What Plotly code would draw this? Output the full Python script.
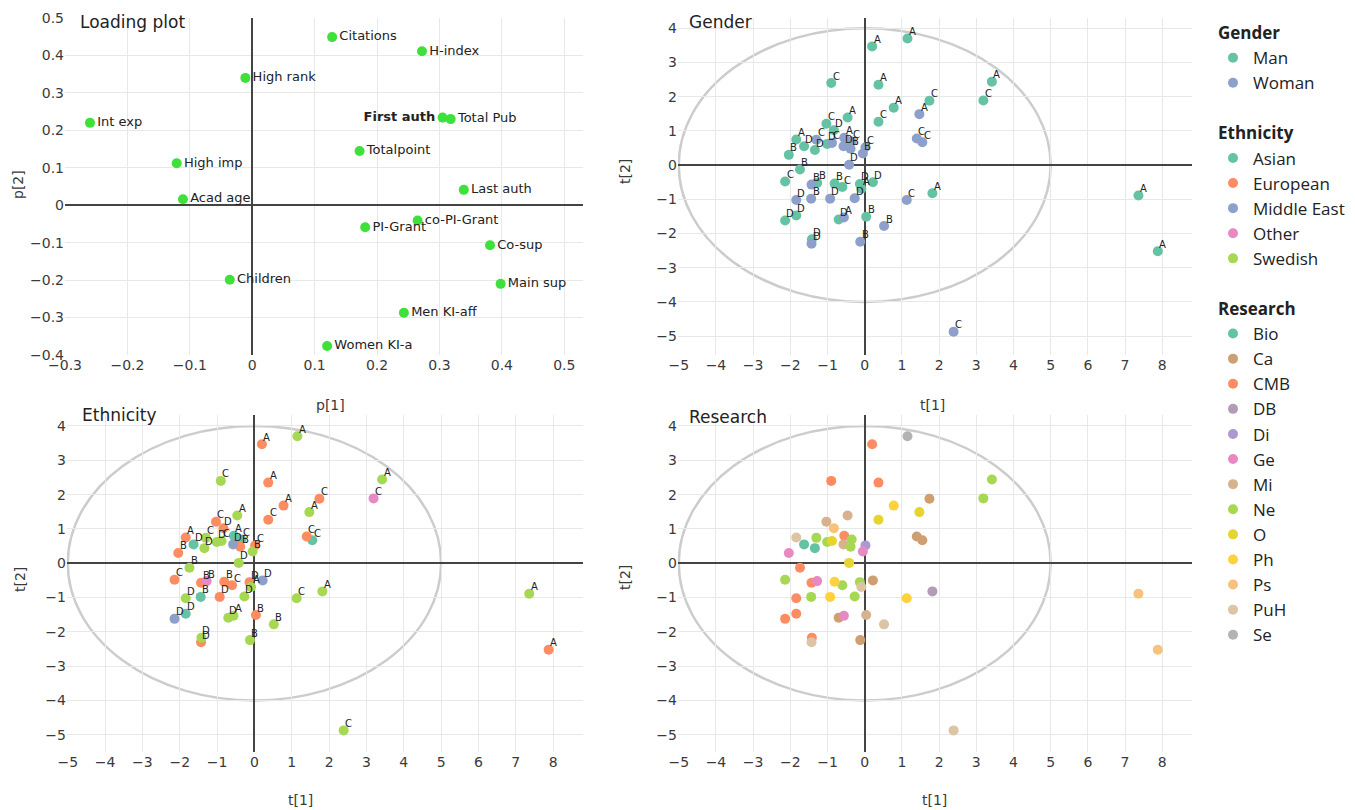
import plotly.graph_objects as go
from plotly.subplots import make_subplots

# ---------------- Loading plot data ----------------
load_names = ["Citations", "H-index", "High rank", "First auth", "Total Pub", "Int exp",
              "Totalpoint", "High imp", "Last auth", "Acad age", "co-PI-Grant", "PI-Grant",
              "Co-sup", "Children", "Main sup", "Men KI-aff", "Women KI-a"]
load_p1 = [0.128, 0.272, -0.011, 0.305, 0.318, -0.260, 0.172, -0.121, 0.339, -0.111,
           0.265, 0.181, 0.381, -0.036, 0.398, 0.243, 0.120]
load_p2 = [0.449, 0.411, 0.340, 0.234, 0.230, 0.220, 0.145, 0.112, 0.041, 0.016,
           -0.041, -0.059, -0.107, -0.199, -0.210, -0.287, -0.376]

# ---------------- Score data ----------------
t1 = [0.20, 1.15, -0.90, 0.37, 3.42, 3.19, 1.74, 0.78, 1.47, 0.37,
      -0.46, -1.03, -0.83, -1.84, -0.55, -1.30, -0.35, -1.63, -1.34, -1.01,
      -0.88, -0.57, -0.38, 0.02, -0.05, -2.04, -0.42, -1.74, -2.14, -1.43,
      -1.28, -0.81, -0.60, -0.13, -0.09, 0.22, 1.82, 1.13, -1.84, -1.44,
      -0.93, -0.27, -2.14, -1.84, -0.70, -0.56, 0.04, 0.52, -1.42, -1.43,
      -0.12, 7.36, 7.88, 2.39, 1.40, 1.55]
t2 = [3.47, 3.70, 2.40, 2.35, 2.44, 1.89, 1.88, 1.68, 1.49, 1.27,
      1.39, 1.21, 1.02, 0.75, 0.80, 0.74, 0.69, 0.55, 0.44, 0.62,
      0.65, 0.55, 0.48, 0.52, 0.34, 0.30, 0.01, -0.13, -0.48, -0.57,
      -0.52, -0.54, -0.64, -0.55, -0.69, -0.50, -0.82, -1.02, -1.02, -0.98,
      -0.98, -0.97, -1.62, -1.47, -1.59, -1.53, -1.51, -1.78, -2.17, -2.30,
      -2.24, -0.89, -2.52, -4.87, 0.78, 0.67]
point_labels = ["A", "A", "C", "A", "A", "C", "C", "A", "A", "C",
                "A", "C", "D", "A", "A", "C", "C", "D", "D", "D",
                "C", "D", "B", "C", "B", "B", "D", "B", "C", "B",
                "B", "B", "C", "D", "A", "D", "A", "C", "D", "B",
                "D", "D", "D", "D", "D", "A", "B", "B", "D", "D",
                "B", "A", "A", "C", "C", "C"]
gender = ["Man", "Man", "Man", "Man", "Man", "Man", "Man", "Man", "Woman", "Man",
          "Man", "Man", "Man", "Man", "Woman", "Woman", "Woman", "Man", "Man", "Man",
          "Woman", "Woman", "Woman", "Woman", "Woman", "Man", "Woman", "Man", "Man", "Woman",
          "Man", "Man", "Man", "Man", "Man", "Man", "Man", "Woman", "Woman", "Woman",
          "Woman", "Woman", "Man", "Man", "Man", "Woman", "Man", "Woman", "Man", "Woman",
          "Woman", "Man", "Man", "Woman", "Woman", "Woman"]
ethnicity = ["European", "Swedish", "Swedish", "European", "Swedish", "Other", "European", "European", "Swedish", "European",
             "Swedish", "European", "European", "European", "Asian", "Swedish", "Asian", "Asian", "Swedish", "Swedish",
             "Swedish", "Middle East", "European", "European", "Swedish", "European", "Swedish", "Swedish", "European", "European",
             "Other", "European", "European", "European", "Swedish", "Middle East", "Swedish", "Swedish", "Swedish", "Asian",
             "European", "Swedish", "Middle East", "Asian", "Swedish", "Swedish", "European", "Swedish", "Swedish", "European",
             "Swedish", "Swedish", "European", "Swedish", "European", "Asian"]
research = ["CMB", "Se", "CMB", "CMB", "Ne", "Ne", "Ca", "Ph", "O", "O",
            "Mi", "Mi", "Ps", "PuH", "CMB", "Ne", "Ne", "Bio", "Bio", "Ne",
            "O", "Mi", "Ne", "Di", "Ge", "Ge", "O", "CMB", "Ne", "CMB",
            "Ge", "Ph", "Ne", "Ne", "PuH", "Ca", "DB", "Ph", "CMB", "Ne",
            "Ph", "Ne", "CMB", "CMB", "Ca", "Ge", "Mi", "PuH", "CMB", "PuH",
            "Ca", "Ps", "Ps", "PuH", "Ca", "Ca"]

gender_cats = ["Man", "Woman"]
ethnicity_cats = ["Asian", "European", "Middle East", "Other", "Swedish"]
research_cats = ["Bio", "Ca", "CMB", "DB", "Di", "Ge", "Mi", "Ne", "O", "Ph", "Ps", "PuH", "Se"]

gender_colors = {"Man": "#66c2a5", "Woman": "#8da0cb"}
ethnicity_colors = {"Asian": "#66c2a5", "European": "#fc8d62", "Middle East": "#8da0cb",
                    "Other": "#e78ac3", "Swedish": "#a6d854"}
research_colors = {"Bio": "#66c2a5", "Ca": "#cf9f72", "CMB": "#fc8d62", "DB": "#b39cb6",
                   "Di": "#ad98d2", "Ge": "#e78ac3", "Mi": "#d6b38e", "Ne": "#a6d854",
                   "O": "#e6d52f", "Ph": "#ffd23c", "Ps": "#f7c27c", "PuH": "#dcc4a4",
                   "Se": "#b3b3b3"}

# Hotelling ellipse semi-axes (t[1], t[2])
ellipse_a, ellipse_b = 5, 4

FONT = "DejaVu Sans"
LEG_FONT = "Open Sans"
W, H = 1355, 810
OFF = 8  # page body margin of the rendered html

fig = make_subplots(rows=2, cols=2)

# Loading plot
load_display = ["<b>" + n + "</b>" if n == "First auth" else n for n in load_names]
fig.add_trace(go.Scatter(
    x=load_p1, y=load_p2, mode="markers+text", text=load_display,
    textposition=["middle left" if n == "First auth" else "middle right" for n in load_names],
    textfont=dict(family=FONT, size=13, color="#222"),
    marker=dict(color="#3ee03a", size=10),
    showlegend=False, hoverinfo="text"), row=1, col=1)


def add_group(cats, values, colors, row, col, group):
    first = True
    for c in cats:
        idx = [i for i, v in enumerate(values) if v == c]
        tr = go.Scatter(
            x=[t1[i] for i in idx], y=[t2[i] for i in idx],
            mode="markers",
            text=[point_labels[i] for i in idx],
            marker=dict(color=colors[c], size=10),
            name=c, legendgroup=group, showlegend=True)
        if first:
            tr.legendgrouptitle = dict(text="<b>" + group + "</b>",
                                       font=dict(family=LEG_FONT, size=17, color="#222"))
            first = False
        fig.add_trace(tr, row=row, col=col)


add_group(gender_cats, gender, gender_colors, 1, 2, "Gender")
add_group(ethnicity_cats, ethnicity, ethnicity_colors, 2, 1, "Ethnicity")
add_group(research_cats, research, research_colors, 2, 2, "Research")


def px_x(a, b):
    return [(a - OFF) / W, (b - OFF) / W]


def px_y(top, bottom):
    return [1 - (bottom - OFF) / H, 1 - (top - OFF) / H]


axis_common = dict(showgrid=True, gridcolor="#e8e8e8", gridwidth=1, zeroline=True,
                   zerolinecolor="#444", zerolinewidth=2, showline=False, ticks="",
                   automargin=False,
                   tickfont=dict(family=FONT, size=14, color="#3a3a3a"))

top_y = px_y(18, 355)
bot_y = px_y(415, 752)
left_x = px_x(65, 583)
right_x = px_x(678, 1192)

fig.update_layout(
    xaxis=dict(domain=left_x, range=[-0.3, 0.53], dtick=0.1, **axis_common),
    yaxis=dict(domain=top_y, range=[-0.4, 0.5], dtick=0.1, **axis_common),
    xaxis2=dict(domain=right_x, range=[-5.02, 8.8], dtick=1, **axis_common),
    yaxis2=dict(domain=top_y, range=[-5.55, 4.3], dtick=1, **axis_common),
    xaxis3=dict(domain=px_x(67, 583), range=[-5.02, 8.8], dtick=1, **axis_common),
    yaxis3=dict(domain=bot_y, range=[-5.5, 4.32], dtick=1, **axis_common),
    xaxis4=dict(domain=right_x, range=[-5.02, 8.8], dtick=1, **axis_common),
    yaxis4=dict(domain=bot_y, range=[-5.5, 4.32], dtick=1, **axis_common),
)

# Hotelling ellipses on the three score plots
for xr, yr in [("x2", "y2"), ("x3", "y3"), ("x4", "y4")]:
    fig.add_shape(type="circle", xref=xr, yref=yr,
                  x0=-ellipse_a, x1=ellipse_a, y0=-ellipse_b, y1=ellipse_b,
                  line=dict(color="rgba(170,170,170,0.6)", width=2.5), layer="below")

annots = []
# Point letter labels (gender and ethnicity score plots), placed just above-right of each dot
for xr, yr in [("x2", "y2"), ("x3", "y3")]:
    for xv, yv, lab in zip(t1, t2, point_labels):
        annots.append(dict(text=lab, x=xv, y=yv, xref=xr, yref=yr, showarrow=False,
                           xanchor="center", yanchor="middle", xshift=5, yshift=7,
                           font=dict(family=FONT, size=10, color="#222")))
# Panel titles
for txt, x, y in [("Loading plot", 78, 22), ("Gender", 687, 22),
                  ("Ethnicity", 80, 415), ("Research", 687, 417)]:
    annots.append(dict(text=txt, x=(x - OFF) / W, y=1 - (y - OFF) / H, xref="paper", yref="paper",
                       xanchor="left", yanchor="middle", showarrow=False,
                       font=dict(family=FONT, size=17, color="#222")))
# Axis titles
for txt, x, y, rot in [("p[1]", 330, 405, 0), ("p[2]", 18, 185, -90),
                       ("t[1]", 932, 405, 0), ("t[2]", 625, 172, -90),
                       ("t[1]", 300, 800, 0), ("t[2]", 20, 580, -90),
                       ("t[1]", 935, 800, 0), ("t[2]", 625, 578, -90)]:
    annots.append(dict(text=txt, x=(x - OFF) / W, y=1 - (y - OFF) / H, xref="paper", yref="paper",
                       xanchor="center", yanchor="middle", showarrow=False, textangle=rot,
                       font=dict(family=FONT, size=14, color="#3a3a3a")))

fig.update_layout(
    width=W, height=H,
    margin=dict(l=0, r=0, t=0, b=0),
    paper_bgcolor="white", plot_bgcolor="white",
    font=dict(family=FONT, size=14, color="#3a3a3a"),
    annotations=annots,
    legend=dict(x=(1213 - OFF) / W, y=1 - (15 - OFF) / H, xanchor="left", yanchor="top",
                traceorder="grouped", tracegroupgap=25, groupclick="toggleitem",
                font=dict(family=LEG_FONT, size=17, color="#222"),
                bgcolor="rgba(0,0,0,0)"),
)

fig.write_html("out.html")
